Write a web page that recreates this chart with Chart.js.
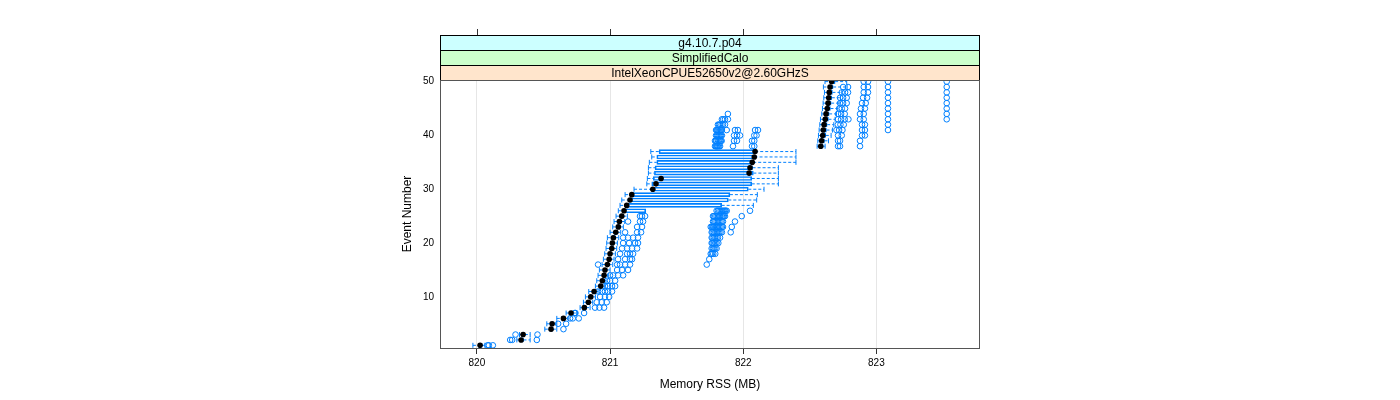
<!DOCTYPE html>
<html>
<head>
<meta charset="utf-8">
<script src="https://cdn.jsdelivr.net/npm/chart.js@4.4.0/dist/chart.umd.min.js"></script>
<style>
html, body { margin: 0; padding: 0; background: #fff; }
</style>
</head>
<body>
<canvas id="myChart1" width="1400" height="400"></canvas>
<script>
//------------------ データ ------------------//
// ストリップ
const STRIP_TEXT = ['g4.10.7.p04', 'SimplifiedCalo', 'IntelXeonCPUE52650v2@2.60GHzS'];
const STRIP_COLORS = ['#ccffff', '#ccffcc', '#ffe5cc'];
// 軸
const X_TITLE = 'Memory RSS (MB)';
const Y_TITLE = 'Event Number';
const X_TICKS = [820, 821, 822, 823];
const Y_TICKS = [10, 20, 30, 40, 50];

// イベント番号
const events = [1, 2, 3, 4, 5, 6, 7, 8, 9, 10,
                11, 12, 13, 14, 15, 16, 17, 18, 19, 20,
                21, 22, 23, 24, 25, 26, 27, 28, 29, 30,
                31, 32, 33, 34, 35, 36, 37, 38, 39, 40,
                41, 42, 43, 44, 45, 46, 47, 48, 49, 50];

// 箱ひげ (MB)
const whiskerLo = [819.97, 820.30, 820.32, 820.51, 820.525, 820.60, 820.67, 820.775, 820.80, 820.815,
                   820.84, 820.89, 820.90, 820.91, 820.92, 820.94, 820.95, 820.96, 820.97, 820.975,
                   820.98, 821.00, 821.02, 821.03, 821.045, 821.062, 821.075, 821.088, 821.113, 821.18,
                   821.276, 821.28, 821.288, 821.288, 821.295, 821.313, 821.306, 822.555, 822.56, 822.565,
                   822.57, 822.575, 822.58, 822.59, 822.595, 822.60, 822.605, 822.61, 822.602, 822.614];
const boxLo = [820.01, 820.32, 820.335, 820.545, 820.55, 820.635, 820.695, 820.795, 820.825, 820.845,
               820.87, 820.92, 820.93, 820.945, 820.95, 820.97, 820.98, 820.99, 821.00, 821.005,
               821.012, 821.03, 821.05, 821.058, 821.075, 821.105, 821.125, 821.15, 821.163, 821.318,
               821.313, 821.325, 821.333, 821.338, 821.351, 821.351, 821.368, 822.57, 822.575, 822.585,
               822.59, 822.595, 822.60, 822.61, 822.62, 822.625, 822.63, 822.635, 822.64, 822.65];
const median = [820.024, 820.332, 820.347, 820.557, 820.565, 820.65, 820.707, 820.807, 820.837, 820.855,
                820.88, 820.93, 820.942, 820.955, 820.962, 820.98, 820.993, 821.00, 821.013, 821.017,
                821.025, 821.043, 821.062, 821.07, 821.088, 821.105, 821.125, 821.15, 821.163, 821.321,
                821.345, 821.383, 822.044, 822.051, 822.068, 822.083, 822.089, 822.582, 822.589, 822.597,
                822.601, 822.607, 822.616, 822.622, 822.631, 822.637, 822.642, 822.646, 822.652, 822.664];
const boxHi = [820.04, 820.35, 820.36, 820.57, 820.575, 820.66, 820.72, 820.82, 820.85, 820.865,
               820.89, 820.94, 820.955, 820.965, 820.975, 820.99, 821.005, 821.012, 821.025, 821.03,
               821.04, 821.055, 821.075, 821.085, 821.10, 821.268, 821.838, 821.888, 821.90, 822.038,
               822.064, 822.064, 822.076, 822.07, 822.075, 822.085, 822.09, 822.60, 822.61, 822.62,
               822.625, 822.63, 822.64, 822.645, 822.655, 822.66, 822.665, 822.67, 822.675, 822.69];
const whiskerHi = [820.06, 820.40, 820.40, 820.60, 820.60, 820.69, 820.75, 820.85, 820.87, 820.89,
                   820.91, 820.96, 820.97, 820.99, 821.00, 821.02, 821.03, 821.04, 821.05, 821.055,
                   821.065, 821.08, 821.10, 821.11, 821.13, 821.268, 822.076, 822.101, 822.106, 822.156,
                   822.264, 822.264, 822.264, 822.264, 822.396, 822.396, 822.396, 822.615, 822.64, 822.66,
                   822.67, 822.68, 822.69, 822.70, 822.71, 822.72, 822.73, 822.74, 822.78, 822.777];

// 外れ値 (イベント毎)
const outliers = [
  [820.08, 820.09, 820.12],
  [820.25, 820.265, 820.45],
  [820.29, 820.455],
  [820.65],
  [820.61, 820.67],
  [820.70, 820.72, 820.765],
  [820.735, 820.74, 820.805],
  [820.887, 820.92, 820.955],
  [820.90, 820.937, 820.975],
  [820.925, 820.962, 820.993],
  [820.91, 820.94, 820.962, 820.985, 821.015],
  [820.962, 820.985, 821.015, 821.038],
  [820.977, 821.0, 821.038],
  [821.0, 821.023, 821.06, 821.098],
  [821.053, 821.09, 821.135],
  [820.91, 821.053, 821.075, 821.113, 821.15, 821.726],
  [821.06, 821.113, 821.15, 821.165, 821.745],
  [821.075, 821.128, 821.15, 821.173, 821.756, 821.765, 821.775, 821.79],
  [821.09, 821.128, 821.165, 821.203, 821.763, 821.772, 821.78, 821.79, 821.80],
  [821.098, 821.143, 821.188, 821.21, 821.763, 821.77, 821.78, 821.79, 821.80, 821.813],
  [821.098, 821.135, 821.173, 821.21, 821.763, 821.77, 821.78, 821.79, 821.80, 821.81, 821.826],
  [821.113, 821.203, 821.233, 821.763, 821.77, 821.78, 821.79, 821.80, 821.81, 821.82, 821.83, 821.84, 821.906],
  [821.203, 821.24, 821.756, 821.765, 821.773, 821.78, 821.79, 821.80, 821.81, 821.82, 821.83, 821.84, 821.848, 821.914],
  [821.135, 821.225, 821.248, 821.773, 821.78, 821.79, 821.80, 821.81, 821.82, 821.83, 821.84, 821.848, 821.938],
  [821.225, 821.24, 821.263, 821.773, 821.78, 821.79, 821.80, 821.81, 821.82, 821.83, 821.84, 821.848, 821.855, 821.863, 821.989],
  [821.80, 821.81, 821.82, 821.83, 821.84, 821.848, 821.855, 821.863, 821.868, 821.876, 822.051],
  [], [], [], [], [], [], [], [], [], [], [],
  [821.788, 821.795, 821.80, 821.805, 821.81, 821.818, 821.826, 821.923, 822.066, 822.083, 822.712, 822.727, 822.877],
  [821.788, 821.795, 821.80, 821.811, 821.818, 821.826, 821.832, 821.838, 821.931, 821.953, 822.066, 822.083, 822.712, 822.727, 822.877],
  [821.796, 821.803, 821.81, 821.818, 821.826, 821.833, 821.84, 821.931, 821.953, 821.976, 822.083, 822.10, 822.712, 822.74, 822.892, 822.914],
  [821.796, 821.803, 821.81, 821.818, 821.826, 821.833, 821.84, 821.876, 821.938, 821.96, 822.089, 822.111, 822.70, 822.72, 822.745, 822.892, 822.914, 823.087],
  [821.81, 821.818, 821.826, 821.837, 821.848, 821.863, 822.71, 822.73, 822.755, 822.892, 822.914, 823.087],
  [821.84, 821.85, 821.863, 821.885, 822.712, 822.735, 822.762, 822.79, 822.877, 822.905, 823.087, 823.528],
  [821.885, 822.712, 822.735, 822.762, 822.877, 822.905, 823.087, 823.528],
  [822.72, 822.74, 822.765, 822.884, 822.914, 823.087, 823.528],
  [822.727, 822.75, 822.777, 822.892, 822.92, 823.087, 823.528],
  [822.727, 822.75, 822.777, 822.90, 822.93, 823.087, 823.528],
  [822.74, 822.765, 822.787, 822.905, 822.937, 823.087, 823.528],
  [822.75, 822.787, 822.905, 822.937, 823.087, 823.528],
  [822.905, 822.937, 823.087, 823.528]
];
//-------------------------------------------//

const BLUE = '#0080ff';
const FONT = '"Liberation Sans", Arial, sans-serif';

// データセット作成
const boxData = events.map((e, i) => ({ y: e, x: [boxLo[i], boxHi[i]] }));
const medianData = events.map((e, i) => ({ x: median[i], y: e }));
const whiskerData = [];
const capData = [];
const outlierData = [];
events.forEach((e, i) => {
    if (whiskerLo[i] < boxLo[i]) {
        whiskerData.push({ x: whiskerLo[i], y: e }, { x: boxLo[i], y: e }, { x: null, y: e });
        capData.push({ x: whiskerLo[i], y: e });
    }
    if (whiskerHi[i] > boxHi[i]) {
        whiskerData.push({ x: boxHi[i], y: e }, { x: whiskerHi[i], y: e }, { x: null, y: e });
        capData.push({ x: whiskerHi[i], y: e });
    }
    outliers[i].forEach(v => outlierData.push({ x: v, y: e }));
});

// ストリップ・枠を描くプラグイン
const panelPlugin = {
    id: 'panel',
    afterDraw(chart) {
        const ctx = chart.ctx;
        const a = chart.chartArea;
        const xs = chart.scales.x;
        const h = 15;
        ctx.save();
        for (let i = 0; i < STRIP_TEXT.length; i++) {
            const top = a.top - h * (STRIP_TEXT.length - i);
            ctx.fillStyle = STRIP_COLORS[i];
            ctx.fillRect(a.left, top, a.right - a.left, h);
            ctx.strokeStyle = '#000';
            ctx.lineWidth = 1;
            ctx.strokeRect(a.left + 0.5, top + 0.5, a.right - a.left - 1, h);
            ctx.fillStyle = '#000';
            ctx.font = '12px ' + FONT;
            ctx.textAlign = 'center';
            ctx.textBaseline = 'middle';
            ctx.fillText(STRIP_TEXT[i], (a.left + a.right) / 2, top + h / 2 + 1);
        }
        // 上側の目盛
        const stripTop = a.top - h * STRIP_TEXT.length;
        ctx.strokeStyle = '#333';
        ctx.beginPath();
        X_TICKS.forEach(v => {
            const px = Math.round(xs.getPixelForValue(v)) + 0.5;
            ctx.moveTo(px, stripTop);
            ctx.lineTo(px, stripTop - 6);
        });
        ctx.stroke();
        // パネル枠
        ctx.strokeStyle = '#555';
        ctx.strokeRect(a.left + 0.5, a.top + 0.5, a.right - a.left - 1, a.bottom - a.top);
        ctx.restore();
    }
};

const ctx = document.getElementById('myChart1');
window.myChart = new Chart(ctx, {
    type: 'scatter',
    data: {
        datasets: [
            {
                type: 'scatter',
                data: outlierData,
                pointStyle: 'circle',
                pointRadius: 2.8,
                pointBorderWidth: 1,
                pointBorderColor: BLUE,
                pointBackgroundColor: 'rgba(0,0,0,0)',
                order: 4
            },
            {
                type: 'line',
                data: whiskerData,
                borderColor: BLUE,
                borderWidth: 1,
                borderDash: [3, 2],
                pointRadius: 0,
                spanGaps: false,
                fill: false,
                order: 3
            },
            {
                type: 'scatter',
                data: capData,
                pointStyle: 'line',
                rotation: 90,
                pointRadius: 2.5,
                pointBorderWidth: 1,
                pointBorderColor: BLUE,
                order: 2
            },
            {
                type: 'bar',
                indexAxis: 'y',
                data: boxData,
                barThickness: 4,
                borderColor: BLUE,
                borderWidth: 1,
                borderSkipped: false,
                backgroundColor: 'rgba(255,255,255,0)',
                order: 1
            },
            {
                type: 'scatter',
                data: medianData,
                pointStyle: 'circle',
                pointRadius: 2.8,
                pointBorderWidth: 0,
                pointBackgroundColor: '#000',
                order: 0
            }
        ]
    },
    options: {
        responsive: false,
        animation: false,
        devicePixelRatio: 1,
        layout: { padding: { left: 400, right: 420, top: 80, bottom: 6 } },
        plugins: { legend: { display: false }, tooltip: { enabled: false } },
        scales: {
            x: {
                type: 'linear',
                offset: false,
                min: 819.723,
                max: 823.778,
                afterBuildTicks(s) { s.ticks = X_TICKS.map(v => ({ value: v })); },
                afterFit(s) { s.height = 46; },
                grid: { color: '#e6e6e6', tickColor: '#333', tickLength: 6, drawTicks: true, offset: false },
                border: { display: false },
                ticks: { color: '#000', font: { family: FONT, size: 10 }, padding: 3, maxRotation: 0 },
                title: { display: true, text: X_TITLE, color: '#000', font: { family: FONT, size: 12 }, padding: { top: 0, bottom: 2 } }
            },
            y: {
                type: 'linear',
                offset: false,
                min: 0.5,
                max: 50.3,
                afterBuildTicks(s) { s.ticks = Y_TICKS.map(v => ({ value: v })); },
                afterFit(s) { s.width = 40; },
                grid: { display: false, drawTicks: false, offset: false },
                border: { display: false },
                ticks: { color: '#000', font: { family: FONT, size: 10 }, padding: 6 },
                title: { display: true, text: Y_TITLE, color: '#000', font: { family: FONT, size: 12 }, padding: { top: 0, bottom: 0 } }
            }
        }
    },
    plugins: [panelPlugin]
});
</script>
</body>
</html>
